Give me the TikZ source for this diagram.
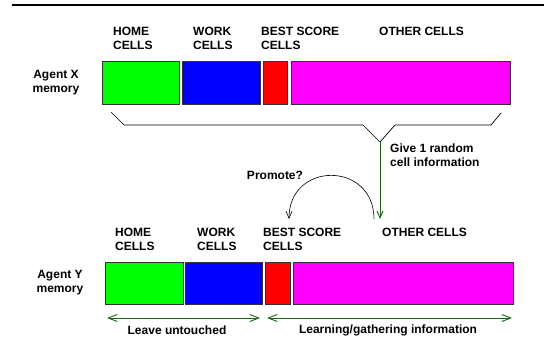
\documentclass[tikz,border=0pt]{standalone}
\usepackage{fontspec}
\setmainfont{Liberation Sans}
\usetikzlibrary{arrows.meta}
\definecolor{homecol}{RGB}{0,255,0}
\definecolor{workcol}{RGB}{0,0,255}
\definecolor{bestcol}{RGB}{255,0,0}
\definecolor{othercol}{RGB}{255,0,255}
\definecolor{linkgreen}{RGB}{20,100,20}
\begin{document}
\begin{tikzpicture}[x=1pt,y=-1pt,
  every node/.style={font=\fontsize{12}{14}\selectfont\bfseries, inner sep=0pt},
  cellbox/.style={draw=black!80, line width=0.9pt, anchor=north west},
  head/.style={align=left, anchor=north west},
  agent/.style={align=center},
  barb/.style={{Straight Barb[length=9pt,width=7pt]}-{Straight Barb[length=9pt,width=7pt]}, linkgreen, line width=0.9pt},
  feed/.style={-{Straight Barb[length=7pt,width=6pt]}, linkgreen, line width=0.9pt},
  promote/.style={-{Straight Barb[length=7pt,width=6pt]}, black, line width=0.6pt}]
\useasboundingbox (0,0) rectangle (544,340);

% rule across the top
\draw[line width=2pt] (12,5) -- (544,5);

% ---- memory of agent X ----
\node[head] (hx) at (113,27) {HOME\\CELLS};
\node[head] (wx) at (193,27) {WORK\\CELLS};
\node[head] (bx) at (261,27) {BEST SCORE\\CELLS};
\node[head] (ox) at (379,27) {OTHER CELLS};
\node[agent] (ax) at (56,83) {Agent X\\memory};
\node[cellbox, fill=homecol,  minimum width=77pt,  minimum height=43pt] (gx) at (102,61) {};
\node[cellbox, fill=workcol,  minimum width=78pt,  minimum height=43pt] (blx) at (182,61) {};
\node[cellbox, fill=bestcol,  minimum width=24pt,  minimum height=43pt] (rx) at (263,61) {};
\node[cellbox, fill=othercol, minimum width=219pt, minimum height=43pt] (mx) at (291,61) {};

% brace gathering the whole memory
\coordinate (apex) at (380,142);
\draw[line width=0.7pt] (111,112) -- (124,125) -- (363,125) -- (apex) -- (395,125) -- (491,125) -- (501,113);

% one random cell handed over
\coordinate (feedend) at (380,219);
\draw[feed] (apex) -- (feedend);
\node[align=left, anchor=north west] (give) at (390,144) {Give 1 random\\cell information};

% promotion loop
\coordinate (loopstart) at (374,219);
\coordinate (loopend) at (289,219);
\draw[promote] (loopstart) .. controls (374,161) and (289,161) .. (loopend);
\node (prom) at (275,175) {Promote?};

% ---- memory of agent Y ----
\node[head] (hy) at (115,228) {HOME\\CELLS};
\node[head] (wy) at (197,228) {WORK\\CELLS};
\node[head] (by) at (263,228) {BEST SCORE\\CELLS};
\node[head] (oy) at (382,228) {OTHER CELLS};
\node[agent] (ay) at (60,283) {Agent Y\\memory};
\node[cellbox, fill=homecol,  minimum width=78pt,  minimum height=42pt] (gy) at (105,262) {};
\node[cellbox, fill=workcol,  minimum width=77pt,  minimum height=42pt] (bly) at (185,262) {};
\node[cellbox, fill=bestcol,  minimum width=25pt,  minimum height=42pt] (ry) at (265,262) {};
\node[cellbox, fill=othercol, minimum width=220pt, minimum height=42pt] (my) at (293,262) {};

% spans below agent Y
\coordinate (l1) at (107,318);
\coordinate (l2) at (260,318);
\coordinate (r1) at (267,318);
\coordinate (r2) at (512,318);
\draw[barb] (l1) -- (l2);
\draw[barb] (r1) -- (r2);
\node (leave) at (177,330) {Leave untouched};
\node (learn) at (388,330) {Learning/gathering information};
\end{tikzpicture}
\end{document}
